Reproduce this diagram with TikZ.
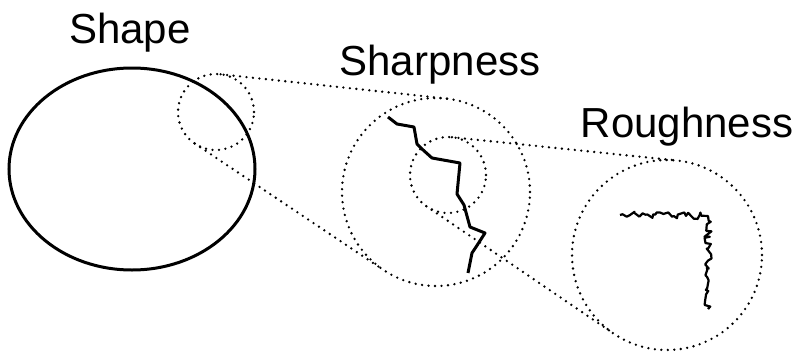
\documentclass[tikz,border=0pt]{standalone}
\usepackage{fontspec}
\setmainfont{Liberation Sans}
\usetikzlibrary{decorations.pathmorphing}
\begin{document}
\begin{tikzpicture}[x=1pt, y=-1pt,
    lens/.style={circle, draw, inner sep=0pt, outer sep=0pt, line width=2.6pt,
        dash pattern=on 0pt off 6.5pt, line cap=round},
    zoomline/.style={line width=2.6pt, dash pattern=on 0pt off 6.5pt, line cap=round},
    scalelabel/.style={font=\fontsize{42}{50}\selectfont, inner sep=0pt, anchor=base}]
\useasboundingbox (0,0) rectangle (806,351);

% Shape (outline of the grain)
\draw[line width=3pt] (132,169) ellipse [x radius=123, y radius=101];
\node[scalelabel] (shapelbl) at (130,43) {Shape};

% Magnifying circles
\node[lens, minimum size=76pt] (lensA) at (216,112) {};
\node[lens, minimum size=188pt] (lensB) at (436,192) {};
\node[lens, minimum size=76pt] (lensC) at (448,175) {};
\node[lens, minimum size=190pt] (lensD) at (667,255) {};

% Zoom lines
\draw[zoomline] (lensA.83.9) -- (lensB.83.9);
\draw[zoomline] (lensA.236.2) -- (lensB.236.2);
\draw[zoomline] (lensC.84.1) -- (lensD.84.1);
\draw[zoomline] (lensC.235.8) -- (lensD.235.8);

% Sharpness (corners of the outline)
\draw[line width=3pt, line join=round] (388,117) -- (397,124) -- (414,127)
    -- (417,144) -- (422,149) -- (432,158) -- (460,163) -- (457,194)
    -- (464,205) -- (470,227) -- (485,233) -- (476,247) -- (472,253) -- (468,273);
\node[scalelabel] (sharplbl) at (440,75) {Sharpness};

% Roughness (surface texture)
\pgfmathsetseed{7}
\draw[line width=2.2pt, line join=round, decorate,
    decoration={random steps, segment length=3pt, amplitude=3.5pt}]
    (620,215) -- (708,216) -- (708,309);
\node[scalelabel] (roughlbl) at (687,137) {Roughness};
\end{tikzpicture}
\end{document}
